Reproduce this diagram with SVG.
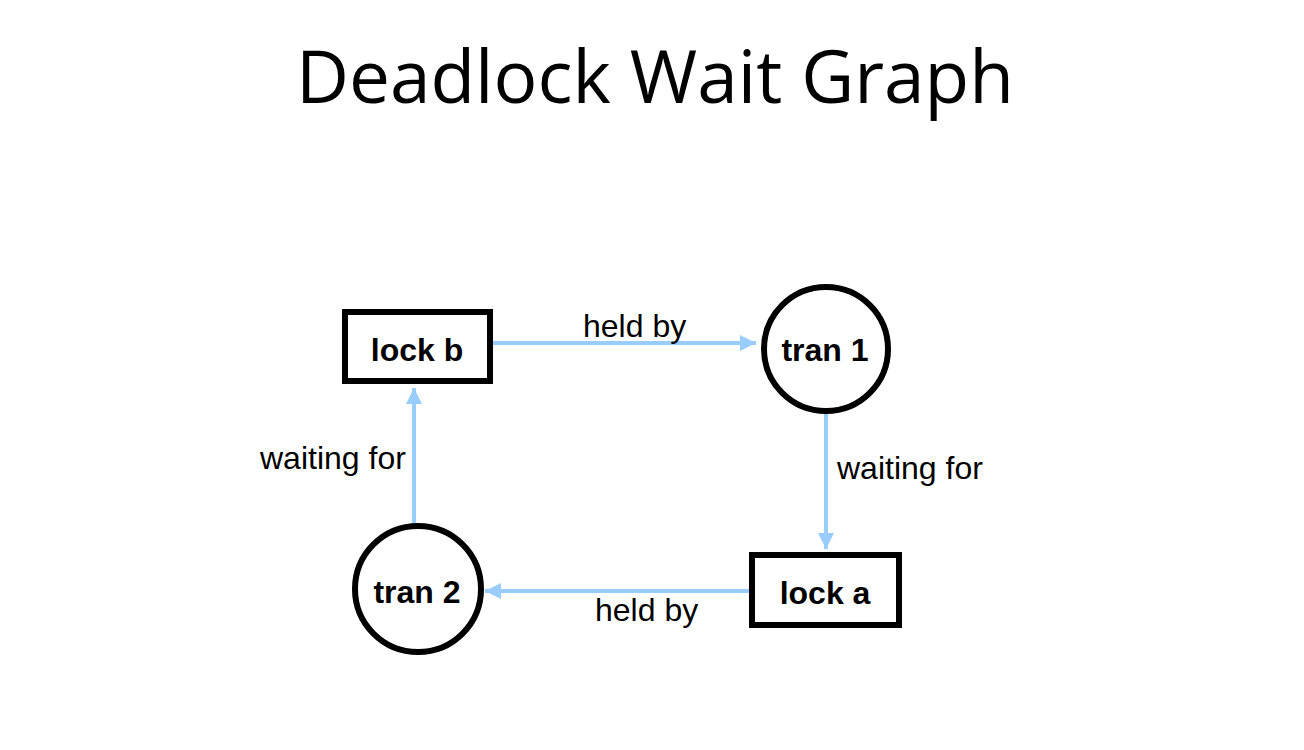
<svg xmlns="http://www.w3.org/2000/svg" width="1304" height="750" viewBox="0 0 1304 750">
<style>
.title{font-family:"Open Sans","DejaVu Sans",sans-serif;font-size:73px;fill:#000}
.node{fill:#fff;stroke:#000;stroke-width:6}
.nlabel{font-family:"Liberation Sans",Arial,sans-serif;font-size:32px;font-weight:bold;fill:#000;text-anchor:middle}
.elabel{font-family:"Liberation Sans",Arial,sans-serif;font-size:32px;fill:#000}
.edge{stroke:#99CCFF;stroke-width:4;fill:none;marker-end:url(#ah)}
</style>
<defs>
<marker id="ah" markerWidth="4" markerHeight="4" refX="4" refY="2" orient="auto" markerUnits="strokeWidth">
<path d="M0,0 L4,2 L0,4 Z" fill="#99CCFF"/>
</marker>
</defs>
<rect width="1304" height="750" fill="#fff"/>
<text class="title" x="655" y="103" text-anchor="middle">Deadlock Wait Graph</text>
<g id="connectors">
<line class="edge" x1="493" y1="343" x2="756" y2="343"/>
<line class="edge" x1="826" y1="410" x2="826" y2="549"/>
<line class="edge" x1="750" y1="591" x2="485" y2="591"/>
<line class="edge" x1="414" y1="525" x2="414" y2="388"/>
<text class="elabel" x="583" y="337">held by</text>
<text class="elabel" x="837" y="479">waiting for</text>
<text class="elabel" x="595" y="621">held by</text>
<text class="elabel" x="260" y="469">waiting for</text>
</g>
<g id="lock_b">
<rect class="node" x="345" y="312" width="145" height="69"/>
<text class="nlabel" x="417" y="361">lock b</text>
</g>
<g id="tran_1">
<circle class="node" cx="826" cy="349" r="62"/>
<text class="nlabel" x="825" y="361">tran 1</text>
</g>
<g id="lock_a">
<rect class="node" x="752" y="555" width="147" height="70"/>
<text class="nlabel" x="825" y="604">lock a</text>
</g>
<g id="tran_2">
<circle class="node" cx="418" cy="589" r="63"/>
<text class="nlabel" x="417" y="603">tran 2</text>
</g>
</svg>
